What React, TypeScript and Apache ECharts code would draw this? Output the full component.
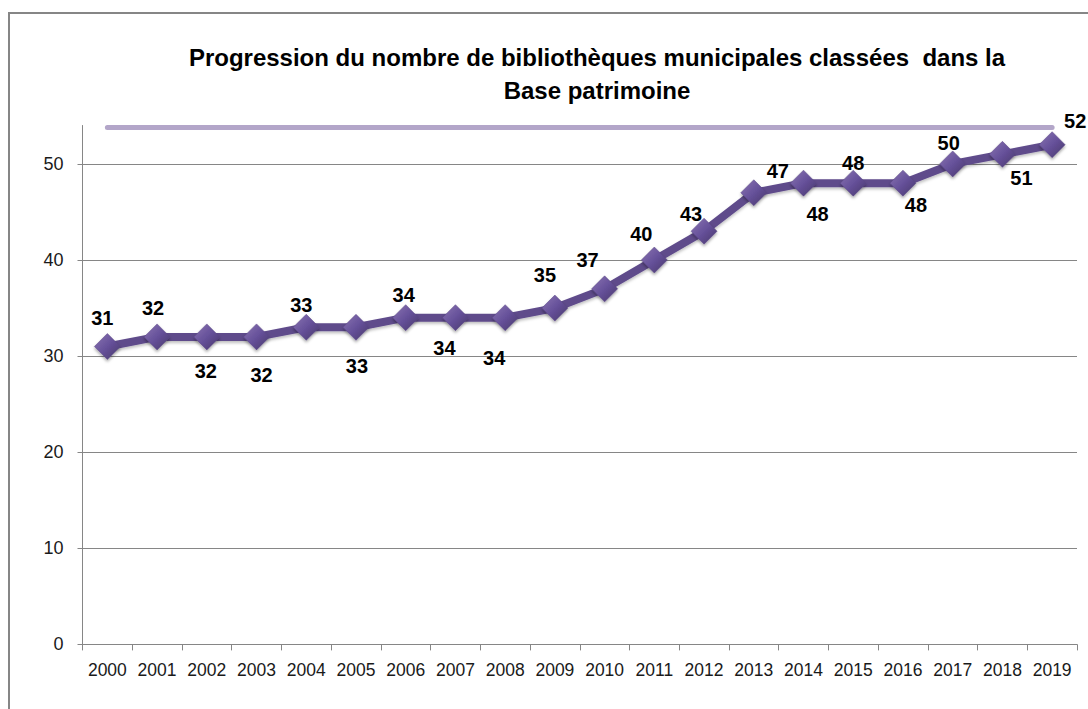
import React, { useEffect, useRef } from "react";
import * as echarts from "echarts";

const years = [
  "2000", "2001", "2002", "2003", "2004", "2005", "2006", "2007", "2008", "2009",
  "2010", "2011", "2012", "2013", "2014", "2015", "2016", "2017", "2018", "2019",
];
const counts = [31, 32, 32, 32, 33, 33, 34, 34, 34, 35, 37, 40, 43, 47, 48, 48, 48, 50, 51, 52];
const topBand = [
  53.8, 53.8, 53.8, 53.8, 53.8, 53.8, 53.8, 53.8, 53.8, 53.8,
  53.8, 53.8, 53.8, 53.8, 53.8, 53.8, 53.8, 53.8, 53.8, 53.8,
];
const titleLines = [
  "Progression du nombre de bibliothèques municipales classées  dans la",
  "Base patrimoine",
];
// label offsets (style only): [dx, dy] from the marker centre
const labelOffsets: number[][] = [
  [-5, -29], [-4, -29], [-1, 34], [5, 38], [-5, -22], [1, 39], [-2, -23], [-11, 30], [-11, 40], [-10, -33],
  [-17, -29], [-13, -26], [-13, -17], [24, -22], [14, 31], [0, -20], [13, 22], [-4, -21], [19, 24], [23, -24],
];
const yMin = 0;
const yMax = 54;
const yInterval = 10;

export default function App() {
  const ref = useRef<HTMLDivElement>(null);
  useEffect(() => {
    if (!ref.current) return;
    const chart = echarts.init(ref.current, undefined, { renderer: "svg" });
    const diamondFill = new echarts.graphic.LinearGradient(0, 0, 1, 1, [
      { offset: 0, color: "#8a74b2" },
      { offset: 0.5, color: "#66519a" },
      { offset: 1, color: "#47366a" },
    ]);
    const titleFont = "bold 24px 'Liberation Sans', sans-serif";
    chart.setOption({
      animation: false,
      backgroundColor: "#ffffff",
      grid: { left: 82.5, right: 11, top: 125.5, bottom: 64.6, containLabel: false },
      graphic: [
        {
          type: "rect",
          shape: { x: 9, y: 13, width: 1200, height: 800 },
          style: { fill: "none", stroke: "#868686", lineWidth: 2 },
          silent: true,
          z: -1,
        },
        {
          type: "text",
          x: 597,
          y: 57,
          style: {
            text: titleLines[0],
            font: titleFont,
            fill: "#000000",
            textAlign: "center",
            textVerticalAlign: "middle",
          },
        },
        {
          type: "text",
          x: 597,
          y: 90,
          style: {
            text: titleLines[1],
            font: titleFont,
            fill: "#000000",
            textAlign: "center",
            textVerticalAlign: "middle",
          },
        },
      ],
      xAxis: {
        type: "category",
        data: years,
        boundaryGap: true,
        axisLine: { lineStyle: { color: "#868686", width: 1 } },
        axisTick: { show: true, length: 6, lineStyle: { color: "#868686" } },
        axisLabel: {
          color: "#1a1a1a",
          fontSize: 17.5,
          fontFamily: "'Liberation Sans', sans-serif",
          margin: 17,
          interval: 0,
        },
        splitLine: { show: false },
      },
      yAxis: {
        type: "value",
        min: yMin,
        max: yMax,
        interval: yInterval,
        axisLine: { show: true, lineStyle: { color: "#868686", width: 1 } },
        axisTick: { show: true, length: 5, lineStyle: { color: "#868686" } },
        axisLabel: {
          color: "#1a1a1a",
          fontSize: 18,
          fontFamily: "'Liberation Sans', sans-serif",
          margin: 19,
          showMaxLabel: false,
          formatter: (v: number) => (v % yInterval === 0 ? String(v) : ""),
        },
        splitLine: { show: true, showMaxLine: false, lineStyle: { color: "#868686", width: 1 } },
      },
      series: [
        {
          name: "band",
          type: "line",
          data: topBand,
          symbol: "none",
          lineStyle: { color: "#b3a6c9", width: 5, cap: "round" },
          silent: true,
          z: 1,
        },
        {
          name: "Bibliothèques",
          type: "line",
          data: counts.map((v, i) => ({
            value: v,
            label: { offset: labelOffsets[i] },
          })),
          symbol: "diamond",
          symbolSize: 26,
          lineStyle: {
            color: "#5f4b8b",
            width: 8,
            shadowColor: "rgba(0,0,0,0.25)",
            shadowBlur: 3,
            shadowOffsetY: 2,
          },
          itemStyle: {
            color: diamondFill,
            borderColor: "#5a4784",
            borderWidth: 0.5,
            shadowColor: "rgba(0,0,0,0.35)",
            shadowBlur: 3,
            shadowOffsetY: 2,
          },
          label: {
            show: true,
            position: "inside",
            color: "#000000",
            fontWeight: "bold",
            fontSize: 20,
            fontFamily: "'Liberation Sans', sans-serif",
          },
          z: 3,
        },
      ],
    });
    return () => chart.dispose();
  }, []);
  return (
    <div
      ref={ref}
      style={{ position: "absolute", left: 0, top: 0, width: 1088, height: 709, background: "#fff" }}
    />
  );
}
